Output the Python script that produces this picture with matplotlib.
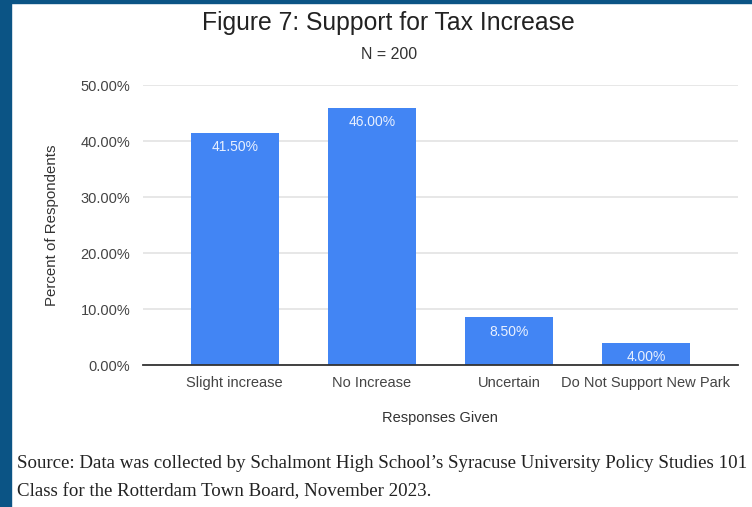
import matplotlib
matplotlib.use("Agg")
import matplotlib.pyplot as plt
from matplotlib.patches import Rectangle
from matplotlib.ticker import FuncFormatter

# data
responses = ["Slight increase", "No Increase", "Uncertain", "Do Not Support New Park"]
percents = [41.5, 46.0, 8.5, 4.0]
yticks = [0, 10, 20, 30, 40, 50]

plt.rcParams['font.family'] = ['Liberation Sans', 'DejaVu Sans']

fig = plt.figure(figsize=(7.52, 5.07), dpi=100)
fig.patch.set_facecolor("white")

# dark blue frame on left and top
fig.add_artist(Rectangle((0, 0), 11 / 752, 1, transform=fig.transFigure,
                         color="#0b5485", zorder=10))
fig.add_artist(Rectangle((0, 1 - 3 / 507), 1, 3 / 507, transform=fig.transFigure,
                         color="#0b5485", zorder=10))

ax = fig.add_axes([0.190, 0.280, 0.791, 0.552])
x = range(len(responses))
bars = ax.bar(x, percents, width=0.645, color="#4285f4", zorder=3)

for b, v in zip(bars, percents):
    ax.text(b.get_x() + b.get_width() / 2, v - 2.6, f"{v:.2f}%",
            ha="center", va="center", color="#e8f0ff", fontsize=10, zorder=4)

ax.set_xlim(-0.67, 3.67)
ax.set_ylim(0, 50)
ax.set_yticks(yticks)
ax.yaxis.set_major_formatter(FuncFormatter(lambda v, p: f"{v:.2f}%"))
ax.set_xticks(list(x))
ax.set_xticklabels(responses)
ax.tick_params(axis="both", length=0, labelsize=10.5, labelcolor="#444444")
ax.tick_params(axis="y", pad=9)
ax.tick_params(axis="x", pad=8)
ax.grid(axis="y", color="#e3e3e3", linewidth=1.2, zorder=0)
for s in ["top", "right", "left"]:
    ax.spines[s].set_visible(False)
ax.spines["bottom"].set_color("#333333")
ax.spines["bottom"].set_linewidth(1.3)
ax.spines["bottom"].set_zorder(5)

ax.set_xlabel("Responses Given", fontsize=10.5, color="#333333")
ax.set_ylabel("Percent of Respondents", fontsize=10.8, color="#333333")
ax.xaxis.label.set_va("center")
ax.yaxis.label.set_va("center")
ax.xaxis.set_label_coords(0.5, -0.189)
ax.yaxis.set_label_coords(-0.153, 0.5)

fig.text(0.517, 0.955, "Figure 7: Support for Tax Increase", ha="center", va="center",
         fontsize=17.8, color="#222222")
fig.text(0.517, 0.893, "N = 200", ha="center", va="center", fontsize=11.5, color="#333333")

src = dict(family=["Liberation Serif", "DejaVu Serif"], fontsize=13.6, color="#222222",
           ha="left", va="center")
fig.text(0.023, 0.085, "Source: Data was collected by Schalmont High School\u2019s Syracuse University Policy Studies 101", **src)
fig.text(0.023, 0.031, "Class for the Rotterdam Town Board, November 2023.", **src)

fig.savefig("out.png", dpi=100)
